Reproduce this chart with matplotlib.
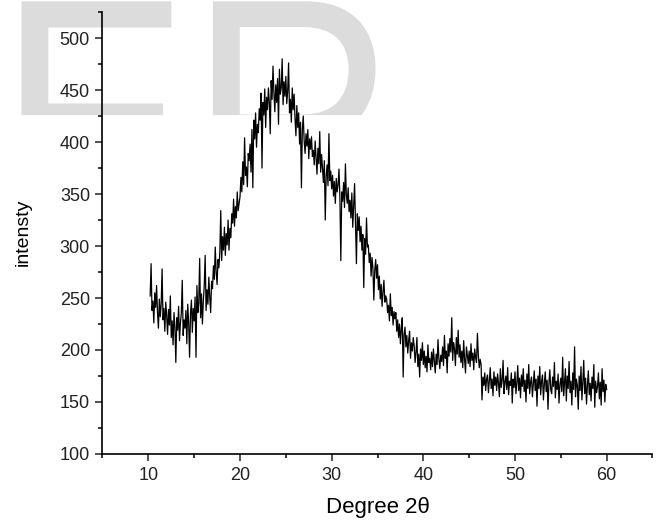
import numpy as np
import matplotlib
matplotlib.use("Agg")
import matplotlib.pyplot as plt
from matplotlib.textpath import TextPath
from matplotlib.patches import PathPatch
from matplotlib.font_manager import FontProperties
from matplotlib.transforms import Affine2D

# XRD scan, 2theta from 10.2 to 60.0 in 0.1 deg steps
two_theta = np.round(np.arange(10.2, 60.05, 0.1), 1)

intensity = [
    252, 283, 238, 247, 226, 255, 241, 262,                       # 10.2
    236, 221, 249, 232, 244, 278, 229, 240, 218, 246,             # 11
    233, 215, 239, 224, 252, 212, 228, 205, 236, 222,             # 12
    188, 231, 219, 242, 209, 226, 236, 267, 214, 229,             # 13
    221, 238, 206, 244, 226, 193, 235, 248, 217, 240,             # 14
    228, 251, 193, 262, 236, 245, 288, 231, 254, 225,             # 15
    247, 262, 291, 238, 258, 244, 270, 251, 236, 266,             # 16
    259, 281, 268, 299, 275, 263, 287, 279, 294, 334,             # 17
    286, 309, 296, 318, 291, 312, 301, 325, 296, 317,             # 18
    308, 331, 322, 345, 319, 338, 327, 352, 334, 341,             # 19
    347, 366, 352, 381, 359, 404, 368, 376, 357, 389,             # 20
    382, 398, 371, 412, 356, 421, 403, 428, 395, 417,             # 21
    409, 432, 421, 447, 375, 438, 426, 451, 414, 443,             # 22
    431, 452, 438, 408, 459, 441, 473, 447, 429, 455,             # 23
    438, 461, 417, 470, 446, 452, 480, 436, 458, 444,             # 24
    463, 437, 449, 476, 428, 441, 419, 452, 431, 446,             # 25
    423, 406, 435, 414, 428, 398, 419, 356, 412, 425,             # 26
    401, 389, 408, 396, 412, 384, 403, 393, 405, 386,             # 27
    392, 378, 401, 385, 369, 394, 379, 410, 371, 388,             # 28
    374, 361, 382, 325, 367, 378, 358, 408, 363, 372,             # 29
    355, 368, 348, 362, 341, 365, 352, 359, 374, 346,             # 30
    286, 352, 343, 361, 337, 379, 349, 341, 356, 333,             # 31
    344, 327, 351, 318, 338, 360, 322, 283, 331, 315,             # 32
    328, 304, 319, 296, 311, 260, 307, 292, 327, 299,             # 33
    301, 284, 293, 271, 289, 279, 248, 276, 287, 269,             # 34
    282, 258, 271, 249, 263, 242, 256, 267, 246, 252,             # 35
    249, 236, 243, 228, 254, 233, 241, 224, 237, 230,             # 36
    236, 218, 229, 212, 225, 206, 221, 231, 174, 215,             # 37
    222, 203, 214, 197, 209, 218, 192, 207, 199, 212,             # 38
    204, 188, 198, 212, 184, 196, 174, 201, 190, 207,             # 39
    186, 199, 183, 194, 179, 205, 188, 192, 181, 198,             # 40
    184, 201, 189, 178, 196, 186, 210, 191, 182, 195,             # 41
    189, 203, 185, 214, 192, 199, 178, 206, 194, 211,             # 42
    198, 231, 190, 207, 201, 185, 212, 196, 219, 193,             # 43
    205, 188, 199, 183, 209, 191, 178, 203, 195, 187,             # 44
    199, 184, 206, 190, 197, 181, 201, 193, 188, 216,             # 45
    195, 183, 191, 186, 152, 174, 166, 178, 161, 172,             # 46
    176, 159, 170, 183, 163, 172, 156, 179, 166, 174,             # 47
    161, 177, 168, 155, 182, 164, 171, 190, 158, 169,             # 48
    175, 162, 183, 157, 170, 166, 178, 149, 172, 164,             # 49
    179, 158, 168, 185, 161, 173, 154, 176, 165, 182,             # 50
    160, 171, 150, 177, 163, 186, 158, 169, 174, 155,             # 51
    168, 180, 161, 172, 146, 175, 163, 184, 157, 170,             # 52
    176, 152, 167, 179, 160, 171, 143, 168, 181, 162,             # 53
    158, 174, 165, 188, 154, 170, 162, 177, 149, 167,             # 54
    173, 160, 193, 156, 168, 182, 151, 175, 163, 189,             # 55
    159, 170, 147, 178, 162, 203, 155, 172, 166, 143,             # 56
    175, 161, 184, 152, 169, 190, 158, 173, 148, 166,             # 57
    180, 157, 168, 151, 174, 163, 186, 145, 170, 159,             # 58
    165, 178, 153, 169, 147, 182, 160, 171, 150, 167,             # 59
    162,                                                          # 60
]

x_ticks = [10, 20, 30, 40, 50, 60]
y_ticks = [100, 150, 200, 250, 300, 350, 400, 450, 500]
watermark = "ER"

W, H = 658, 522
CUT = 115  # watermark is only visible down to this pixel row
fig = plt.figure(figsize=(W / 100, H / 100), dpi=100)

# light grey watermark letters in the top strip (axes clips them)
bg = fig.add_axes([0, 1 - CUT / H, 1, CUT / H], zorder=0)
bg.set_xlim(0, W)
bg.set_ylim(CUT, 0)
bg.axis("off")
tp = TextPath((0, 0), watermark, size=1, prop=FontProperties(family="Liberation Sans"))
wm = PathPatch(tp, facecolor="#dcdcdc", edgecolor="none",
               transform=Affine2D().scale(287, -344).translate(-2, 238) + bg.transData)
bg.add_patch(wm)

ax = fig.add_axes([102.5 / W, 68 / H, 550 / W, 442 / H], zorder=1)
ax.set_facecolor("none")
ax.plot(two_theta, intensity, color="black", lw=0.9)

ax.set_xlim(5, 65)
ax.set_ylim(100, 525)
ax.set_xticks(x_ticks)
ax.set_xticks(np.arange(5, 66, 10), minor=True)
ax.set_yticks(y_ticks)
ax.set_yticks(np.arange(125, 526, 50), minor=True)

for s in ["top", "right"]:
    ax.spines[s].set_visible(False)
for s in ["left", "bottom"]:
    ax.spines[s].set_linewidth(1.2)

ax.tick_params(which="major", direction="out", length=5, width=1.1,
               labelsize=13, pad=4, colors="#222222")
ax.tick_params(which="minor", direction="out", length=3, width=1.1)
for lab in ax.get_xticklabels() + ax.get_yticklabels():
    lab.set_family("Liberation Sans")

ax.set_xlabel("Degree 2θ", fontsize=16, family="Liberation Sans")
ax.set_ylabel("intensty", fontsize=14, family="Liberation Sans")
ax.xaxis.set_label_coords(0.5, -0.098)
ax.yaxis.set_label_coords(-0.128, 0.502)

fig.savefig("out.png", dpi=100)
